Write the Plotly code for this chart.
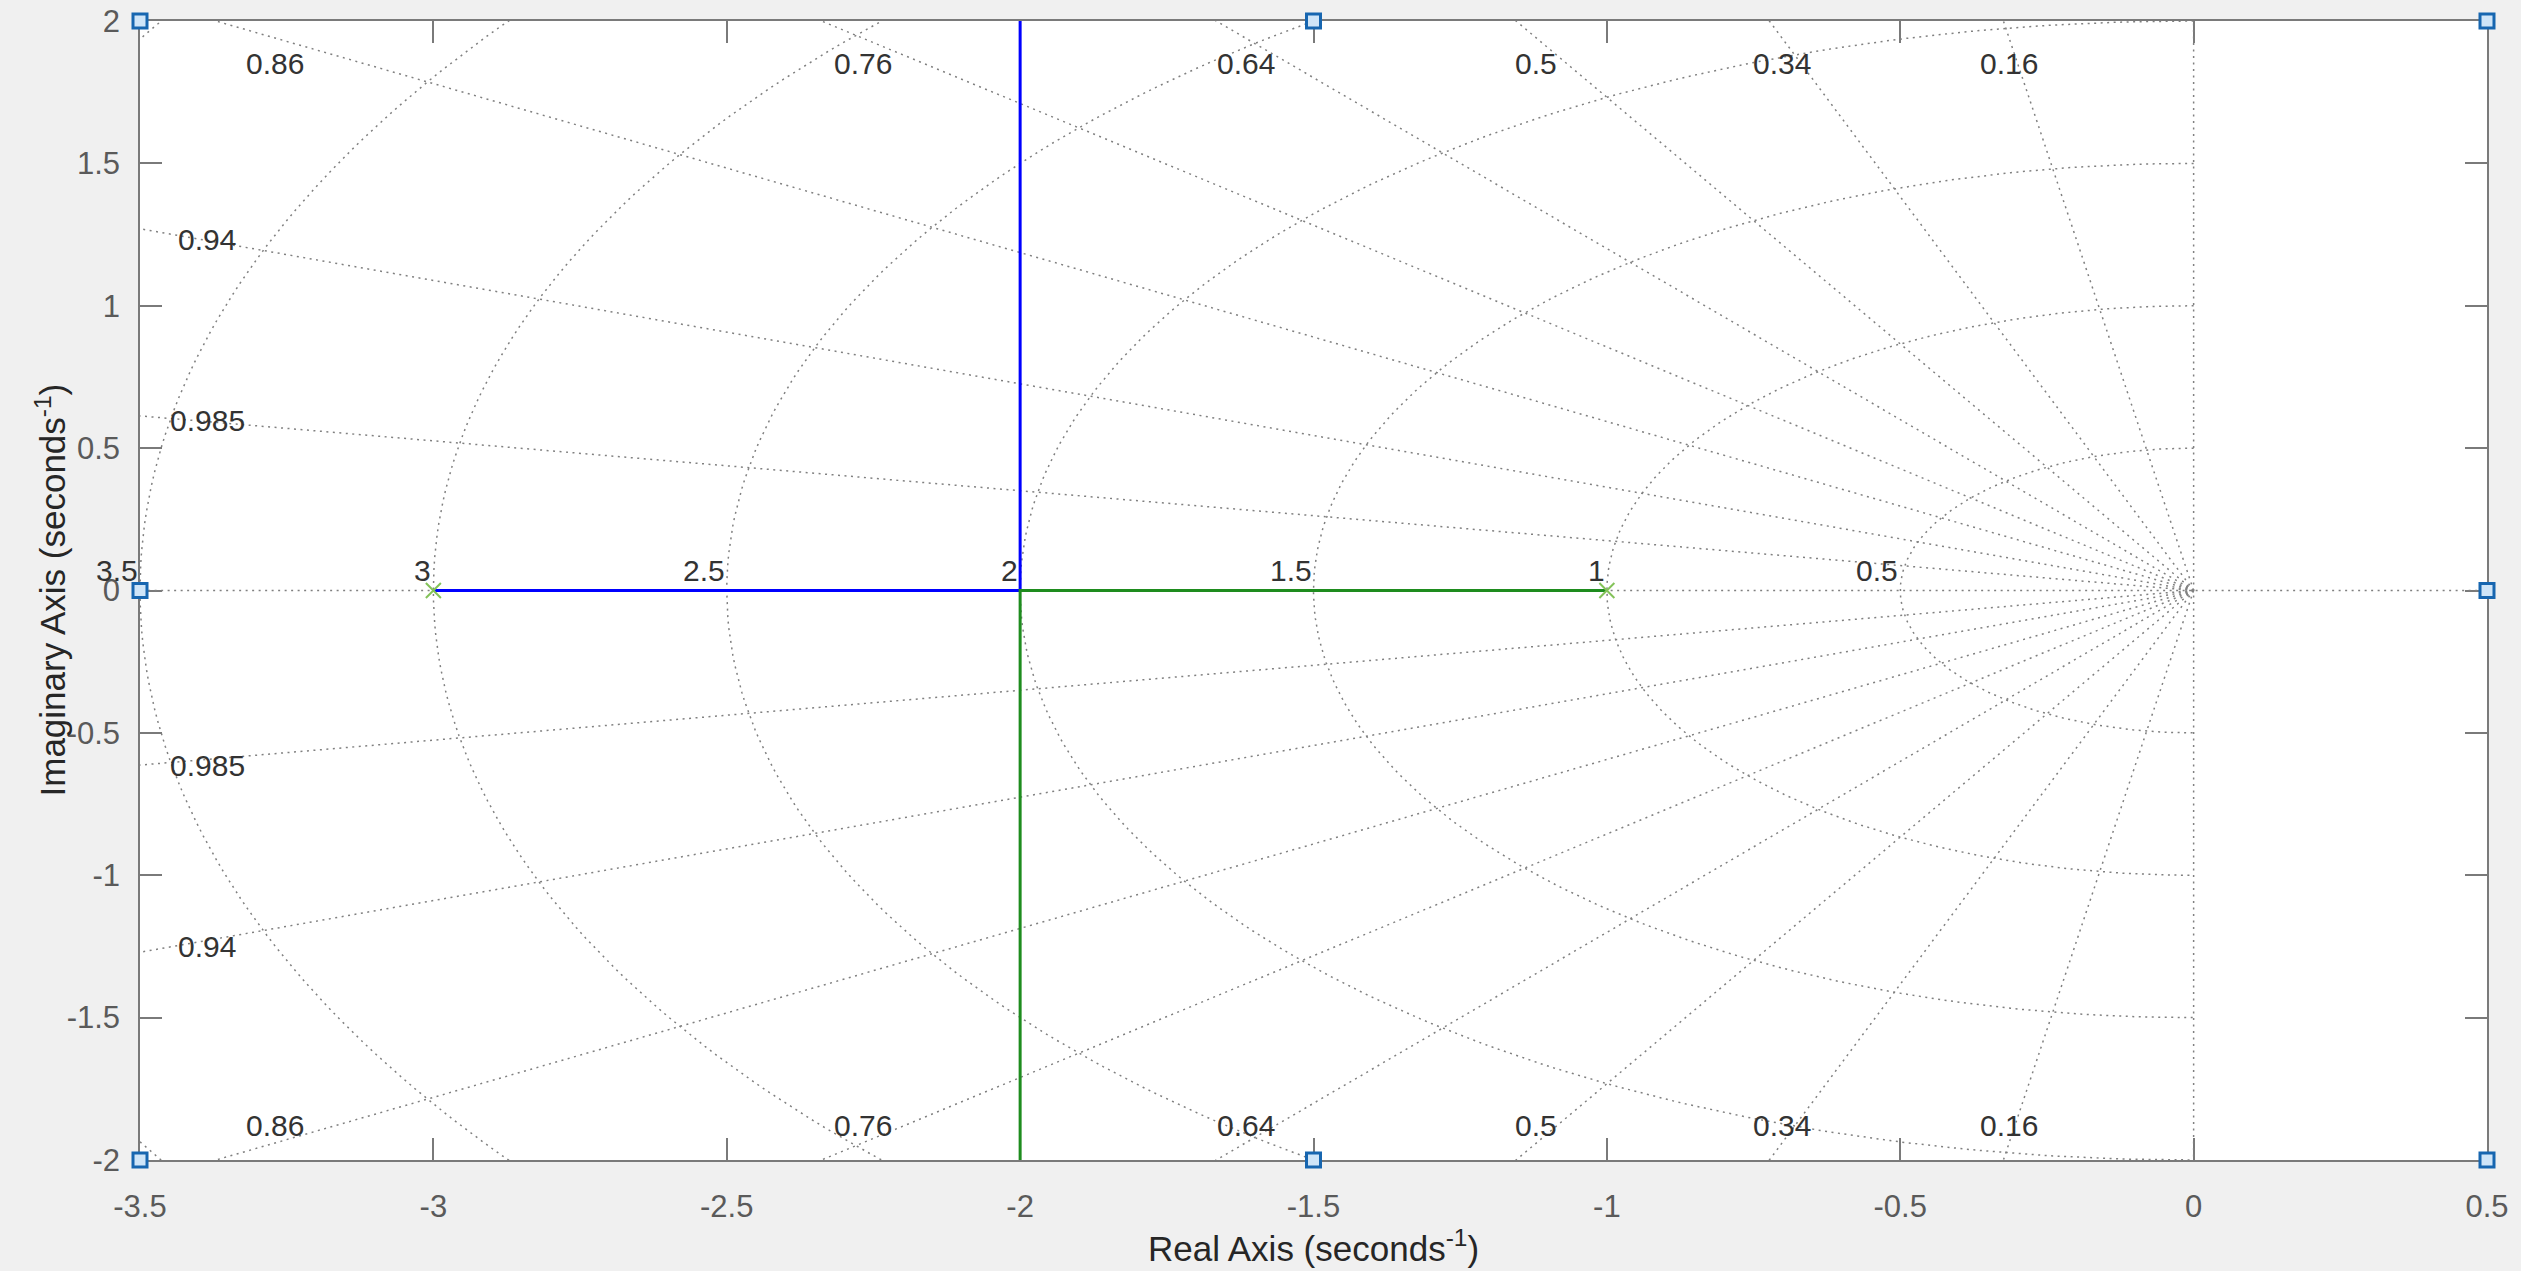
import numpy as np
import plotly.graph_objects as go

# Open-loop poles and the root-locus branches (real, imag pairs)
pole_re = [-3.0, -1.0]
pole_im = [0.0, 0.0]
branch1_re = [-3.0, -2.0, -2.0]
branch1_im = [0.0, 0.0, 2.5]
branch2_re = [-1.0, -2.0, -2.0]
branch2_im = [0.0, 0.0, -2.5]

# s-plane grid: damping ratios and natural frequencies
zeta_levels = [0.16, 0.34, 0.5, 0.64, 0.76, 0.86, 0.94, 0.985]
zeta_labels = ["0.16", "0.34", "0.5", "0.64", "0.76", "0.86", "0.94", "0.985"]
wn_levels = [0.5, 1.0, 1.5, 2.0, 2.5, 3.0, 3.5, 4.0]
wn_labels = ["0.5", "1", "1.5", "2", "2.5", "3", "3.5", ""]

# Axis ticks
x_ticks = [-3.5, -3.0, -2.5, -2.0, -1.5, -1.0, -0.5, 0.0, 0.5]
x_ticktext = ["-3.5", "-3", "-2.5", "-2", "-1.5", "-1", "-0.5", "0", "0.5"]
y_ticks = [-2.0, -1.5, -1.0, -0.5, 0.0, 0.5, 1.0, 1.5, 2.0]
y_ticktext = ["-2", "-1.5", "-1", "-0.5", "0", "0.5", "1", "1.5", "2"]
x_range = [-3.5, 0.5]
y_range = [-2.0, 2.0]

# Edit-mode selection handles on the axes box
handle_x = [-3.5, -1.5, 0.5, -3.5, 0.5, -3.5, -1.5, 0.5]
handle_y = [2.0, 2.0, 2.0, 0.0, 0.0, -2.0, -2.0, -2.0]

FONT = "Liberation Sans, Arial, Helvetica, sans-serif"
GRID_COLOR = "#808080"
GRID_DASH = "2px,4.5px"
AXIS_COLOR = "#7a7a7a"

fig = go.Figure()

# Constant natural-frequency arcs (left half plane)
theta = np.linspace(np.pi / 2, 3 * np.pi / 2, 241)
cx, cy = [], []
for wn in wn_levels:
    cx += list(wn * np.cos(theta)) + [None]
    cy += list(wn * np.sin(theta)) + [None]

# Constant damping rays from the origin
R = 10.0
rx, ry = [], []
for z in zeta_levels:
    s = np.sqrt(1 - z * z)
    rx += [0.0, -R * z, None, 0.0, -R * z, None]
    ry += [0.0, R * s, None, 0.0, -R * s, None]
# zeta = 0 (imaginary axis) and the real axis
rx += [0.0, 0.0, None, -R, R, None]
ry += [-R, R, None, 0.0, 0.0, None]

grid_line = dict(color=GRID_COLOR, width=1.5, dash=GRID_DASH)
fig.add_trace(go.Scatter(x=cx, y=cy, mode="lines", line=grid_line,
                         hoverinfo="skip", showlegend=False))
fig.add_trace(go.Scatter(x=rx, y=ry, mode="lines", line=grid_line,
                         hoverinfo="skip", showlegend=False))

# Root-locus branches
fig.add_trace(go.Scatter(x=branch1_re, y=branch1_im, mode="lines",
                         line=dict(color="#0000ff", width=3), showlegend=False))
fig.add_trace(go.Scatter(x=branch2_re, y=branch2_im, mode="lines",
                         line=dict(color="#1e8c1e", width=3), showlegend=False))

# Poles
fig.add_trace(go.Scatter(x=pole_re, y=pole_im, mode="markers",
                         marker=dict(symbol="x-thin", size=15,
                                     line=dict(color="#84c35a", width=2)),
                         showlegend=False))

# Selection handles
fig.add_trace(go.Scatter(x=handle_x, y=handle_y, mode="markers", cliponaxis=False,
                         marker=dict(symbol="square", size=14, color="#cfe5f8",
                                     line=dict(color="#1766b0", width=3)),
                         hoverinfo="skip", showlegend=False))

annotations = []
label_font = dict(family=FONT, size=30, color="#333333")

# Damping-ratio labels: along the top/bottom edge or the left edge
for z, lab in zip(zeta_levels, zeta_labels):
    s = np.sqrt(1 - z * z)
    y_at_left = -x_range[0] * s / z
    if y_at_left > y_range[1]:
        xl = -1.94 * z / s
        for yy, shift in ((1.85, 0), (-1.85, -8)):
            annotations.append(dict(x=xl, y=yy, text=lab, showarrow=False,
                                    xanchor="center", yanchor="middle",
                                    yshift=shift, font=label_font))
    else:
        xl = -3.385
        yl = -xl * s / z
        for sign, shift in ((1, 1), (-1, -6)):
            annotations.append(dict(x=xl, y=sign * yl, text=lab, showarrow=False,
                                    xanchor="center", yanchor="middle",
                                    yshift=shift, font=label_font))

# Natural-frequency labels on the real axis
for wn, lab in zip(wn_levels, wn_labels):
    if lab:
        annotations.append(dict(x=-wn, y=0, text=lab, showarrow=False,
                                xanchor="right", yanchor="bottom", yshift=2,
                                font=label_font))

title_font = dict(family=FONT, size=35, color="#262626")
annotations.append(dict(xref="paper", yref="paper", x=0.5, y=0, yshift=-86,
                        text="Real Axis (seconds<sup>-1</sup>)", showarrow=False,
                        xanchor="center", yanchor="middle", font=title_font))
annotations.append(dict(xref="paper", yref="paper", x=0, y=0.5, xshift=-90,
                        text="Imaginary Axis (seconds<sup>-1</sup>)", showarrow=False,
                        textangle=-90, xanchor="center", yanchor="middle",
                        font=title_font))

axis_common = dict(showgrid=False, zeroline=False, showline=True,
                   linecolor=AXIS_COLOR, linewidth=1.5, mirror="ticks",
                   ticks="inside", ticklen=22, tickwidth=1.5, tickcolor=AXIS_COLOR,
                   layer="below traces", automargin=False,
                   tickfont=dict(family=FONT, size=31, color="#5a5a5a"))

fig.update_layout(
    template="none",
    width=2521, height=1271,
    margin=dict(l=140, r=34, t=21, b=111, autoexpand=False),
    paper_bgcolor="#f0f0f0", plot_bgcolor="#ffffff",
    xaxis=dict(range=x_range, tickvals=x_ticks, ticktext=x_ticktext,
               ticklabelstandoff=18, **axis_common),
    yaxis=dict(range=y_range, tickvals=y_ticks, ticktext=y_ticktext,
               ticklabelstandoff=12, **axis_common),
    annotations=annotations,
    showlegend=False,
)

fig.write_html("out.html")
